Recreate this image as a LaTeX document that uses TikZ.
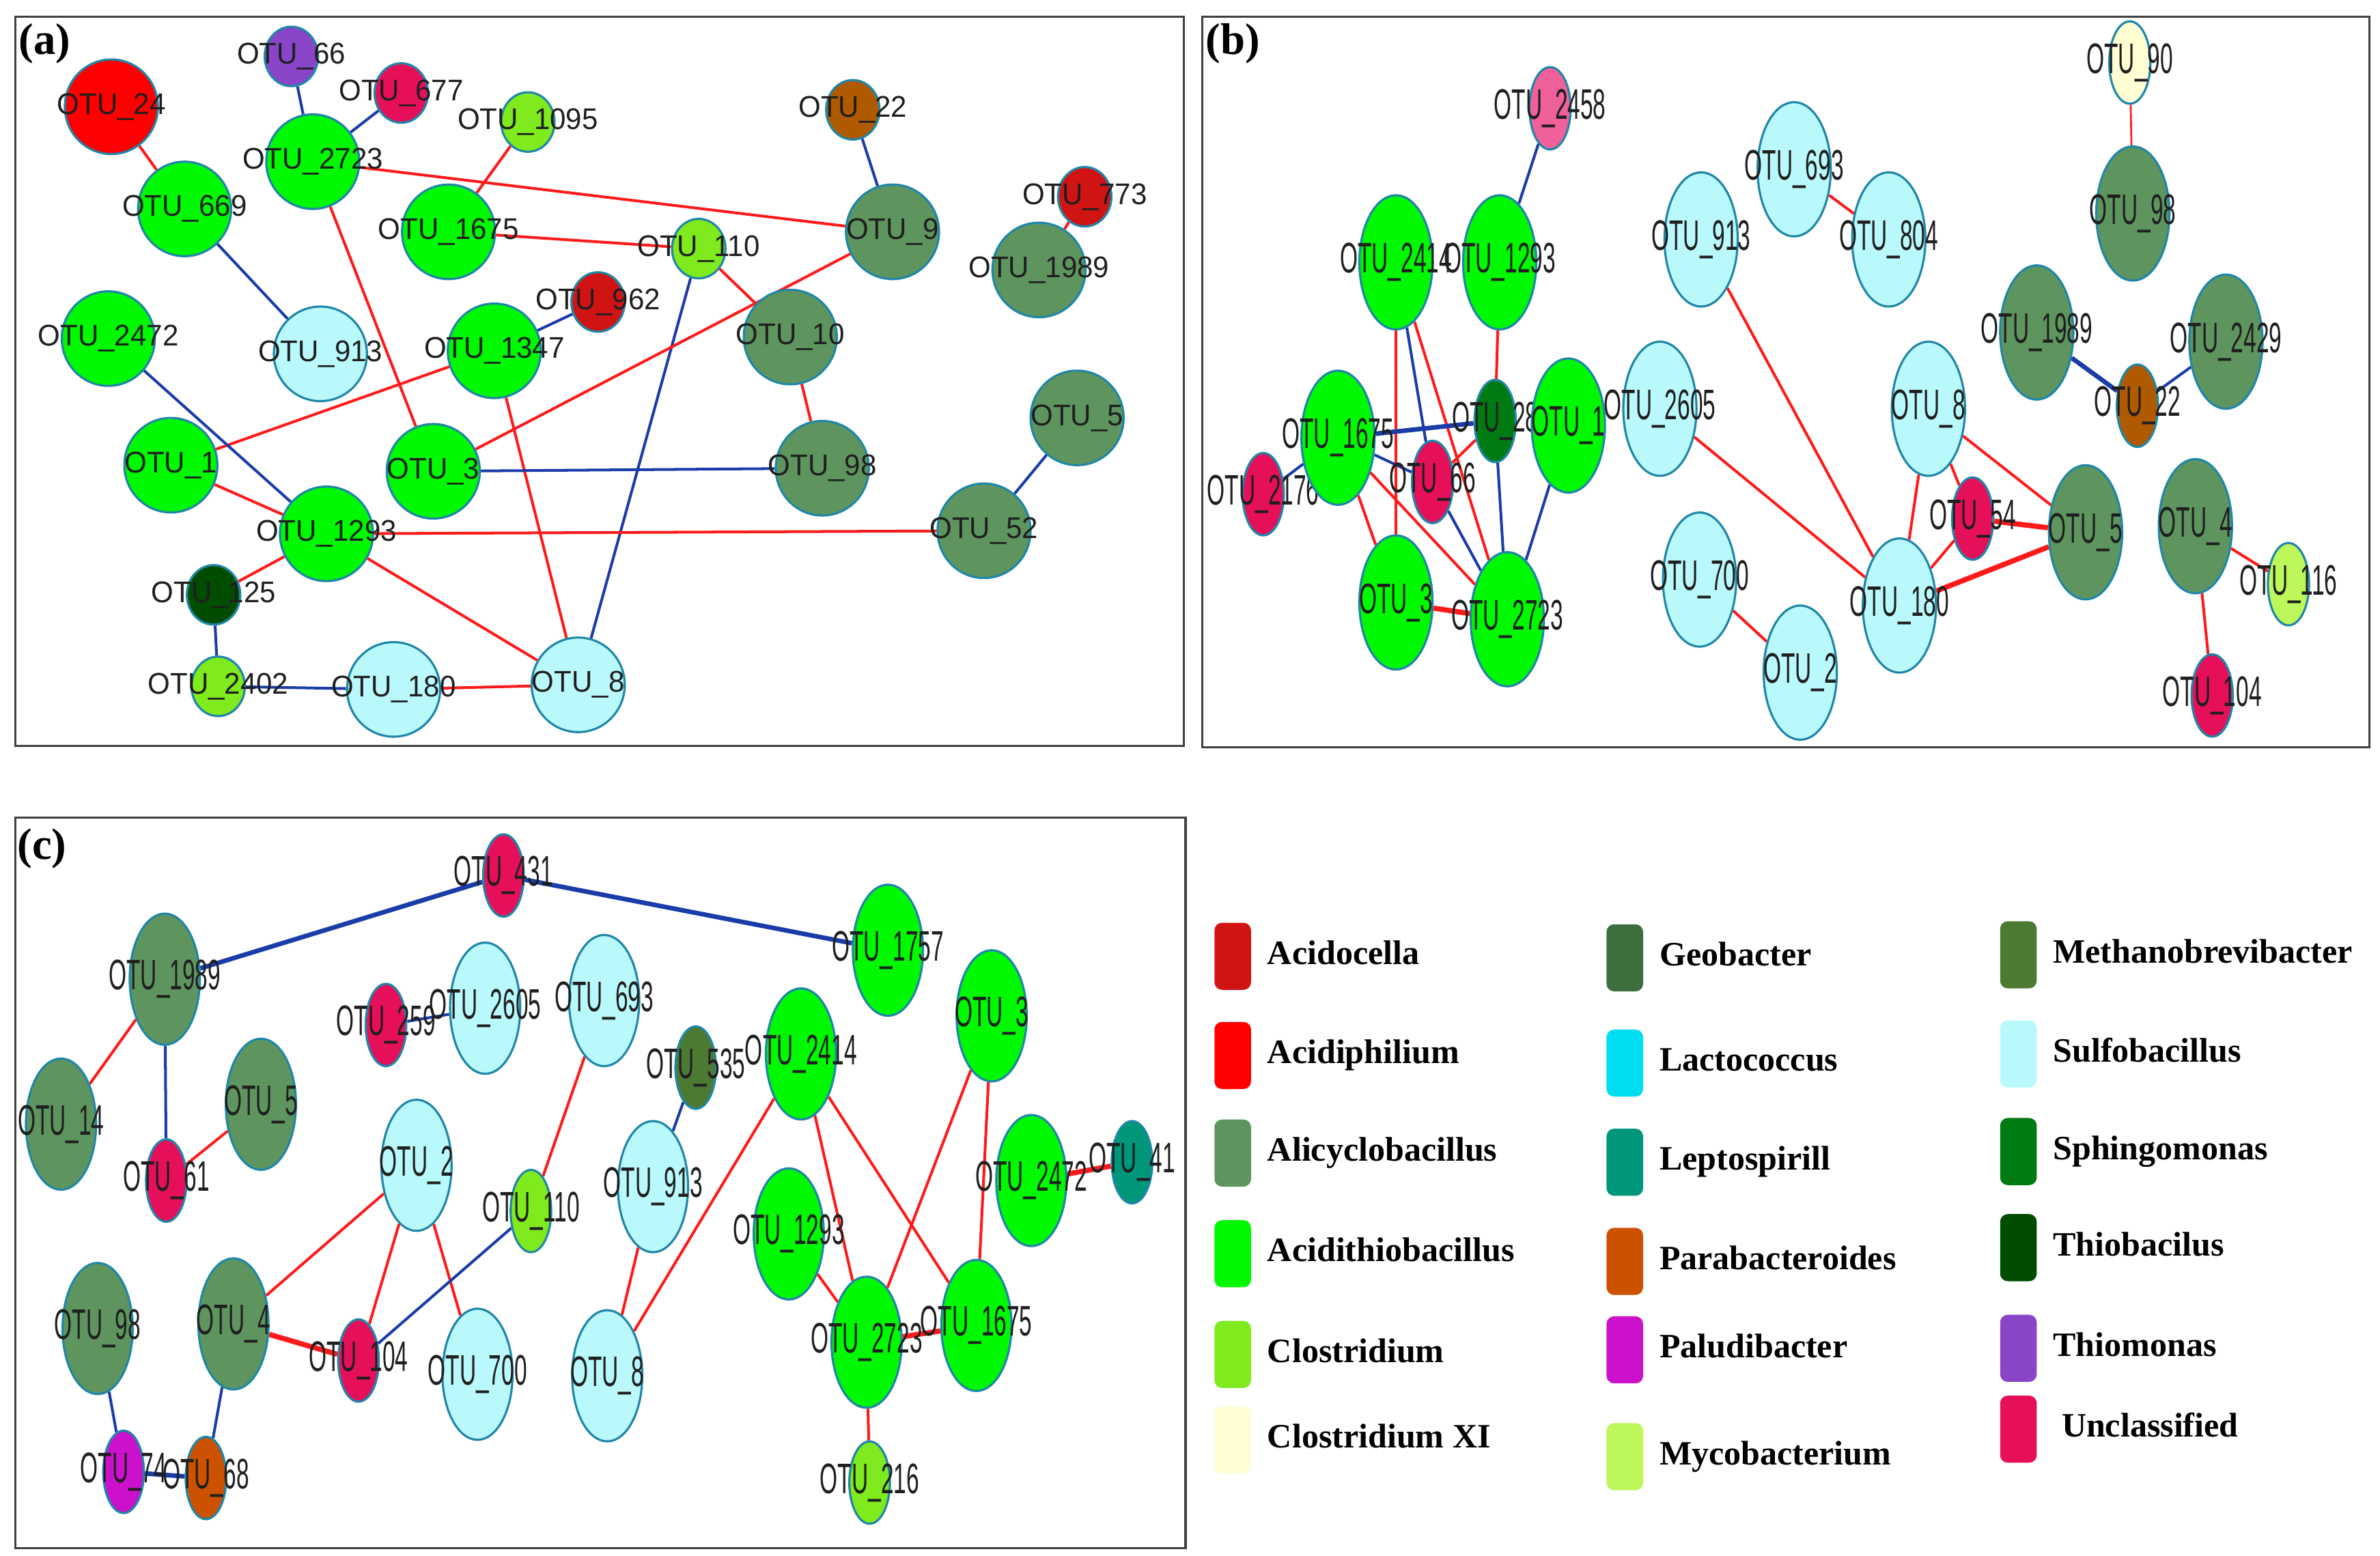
\documentclass[tikz,border=0pt]{standalone}
\usepackage{fontspec}
\setmainfont{Liberation Serif}
\newfontfamily\otuA[FakeStretch=0.96]{Liberation Sans}
\newfontfamily\otuB[FakeStretch=0.535]{Liberation Sans}
\usetikzlibrary{shapes.geometric,positioning,backgrounds}

\definecolor{rim}{HTML}{1F86A8}
\definecolor{linkred}{HTML}{FF1A1A}
\definecolor{linkblue}{HTML}{1A3CA8}
\definecolor{acidocella}{HTML}{D01414}
\definecolor{acidiphilium}{HTML}{FF0000}
\definecolor{alicyclo}{HTML}{5E955F}
\definecolor{acidithio}{HTML}{00F800}
\definecolor{clostridium}{HTML}{7FEA1E}
\definecolor{clostxi}{HTML}{FFFDD2}
\definecolor{geobacter}{HTML}{3D6E3D}
\definecolor{lactococcus}{HTML}{00DDF0}
\definecolor{leptospirill}{HTML}{00967A}
\definecolor{parabact}{HTML}{CC5200}
\definecolor{paludibacter}{HTML}{CC11CC}
\definecolor{mycobact}{HTML}{BDF75A}
\definecolor{methano}{HTML}{4D7A33}
\definecolor{sulfo}{HTML}{BAF9FB}
\definecolor{sphingo}{HTML}{007A12}
\definecolor{thiobac}{HTML}{004D00}
\definecolor{thiomonas}{HTML}{8A44C8}
\definecolor{unclass}{HTML}{E6105A}
\definecolor{pinkish}{HTML}{F0609A}
\definecolor{brownish}{HTML}{B05A00}

\begin{document}
\begin{tikzpicture}[x=0.5pt,y=-0.5pt]
        \tikzstyle{otu}=[ellipse,draw=rim,line width=0.7pt,inner sep=0pt]
        \tikzstyle{bigA}=[minimum width=30.5pt,minimum height=31pt]
        \tikzstyle{smallA}=[minimum width=17.5pt,minimum height=19.5pt]
        \tikzstyle{tallB}=[minimum width=24pt,minimum height=44pt]
        \tikzstyle{tinyB}=[minimum width=13.5pt,minimum height=27pt]
        \tikzstyle{tallC}=[minimum width=23pt,minimum height=43pt]
        \tikzstyle{tinyC}=[minimum width=13.3pt,minimum height=27pt]
        \tikzstyle{redl}=[draw=linkred,line width=0.9pt]
        \tikzstyle{redw}=[draw=linkred,line width=1.7pt]
        \tikzstyle{redthin}=[draw=linkred,line width=0.6pt]
        \tikzstyle{bluel}=[draw=linkblue,line width=0.9pt]
        \tikzstyle{bluew}=[draw=linkblue,line width=1.5pt]
        \tikzstyle{frame}=[draw=black!75,line width=0.8pt]
        \tikzstyle{tag}=[anchor=north west,inner sep=0pt,font=\bfseries\fontsize{14.5}{15}\selectfont]
        \tikzstyle{swatch}=[rectangle,rounded corners=2.5pt,minimum width=12pt,minimum height=22pt,inner sep=0pt]
        \tikzstyle{keytext}=[inner sep=0pt,text height=7.4pt,text depth=2.2pt,font=\bfseries\fontsize{11.2}{12}\selectfont]

        \useasboundingbox (0,0) rectangle (1560,1020);
        \begin{scope}[on background layer]
        \fill[white] (0,0) rectangle (1560,1020);
        \end{scope}

        \draw[frame] (10,11) rectangle (776,489);
        \draw[frame] (788,11) rectangle (1553,490);
        \draw[frame] (10,536) rectangle (777,1015);
        \node[tag] (taga) at (12,15) {(a)};
        \node[tag] (tagb) at (790,15) {(b)};
        \node[tag] (tagc) at (11,543) {(c)};

        % (a)
        \begin{scope}[every label/.style={font=\otuA\fontsize{9.8}{10}\selectfont,text=black!88}]
        \foreach \n/\x/\y/\c/\s in {24/73/70/acidiphilium/bigA, 66/191/37/thiomonas/smallA,
            677/263/61/unclass/smallA, 1095/346/80/clostridium/smallA, 669/121/137/acidithio/bigA,
            2723/205/106/acidithio/bigA, 1675/294/152/acidithio/bigA, 110/458/163/clostridium/smallA,
            22/559/72/brownish/smallA, 9/585/152/alicyclo/bigA, 773/711/129/acidocella/smallA,
            1989/681/177/alicyclo/bigA, 962/392/198/acidocella/smallA, 10/518/221/alicyclo/bigA,
            2472/71/222/acidithio/bigA, 913/210/232/sulfo/bigA, 1347/324/230/acidithio/bigA,
            5/706/274/alicyclo/bigA, 1/112/305/acidithio/bigA, 3/284/309/acidithio/bigA,
            98/539/307/alicyclo/bigA, 52/645/348/alicyclo/bigA, 1293/214/350/acidithio/bigA,
            125/140/390/thiobac/smallA, 2402/143/450/clostridium/smallA, 180/258/452/sulfo/bigA,
            8/379/449/sulfo/bigA}
            \node[otu,\s,fill=\c,label=center:OTU\_\n] (a\n) at (\x,\y) {};
        \end{scope}
        \begin{scope}[on background layer]
        \foreach \u/\v/\e in {24/669/redl, 66/2723/bluel, 677/2723/bluel, 1095/1675/redl,
            2723/9/redl, 2723/3/redl, 669/913/bluel, 1675/110/redl, 22/9/bluel, 773/1989/redl,
            110/10/redl, 110/8/bluel, 9/3/redl, 962/1347/bluel, 1347/1/redl, 1347/8/redl,
            10/98/redl, 2472/1293/bluel, 1/1293/redl, 3/98/bluel, 5/52/bluel, 1293/52/redl,
            1293/125/redl, 1293/8/redl, 125/2402/bluel, 2402/180/bluel, 180/8/redl}
            \draw[\e] (a\u) -- (a\v);
        \end{scope}

        % (b)
        \begin{scope}[every label/.style={font=\otuB\fontsize{14}{14}\selectfont,text=black!88}]
        \foreach \n/\x/\y/\c/\s in {2458/1016/71/pinkish/tinyB, 90/1396/41/clostxi/tinyB,
            693/1176/111/sulfo/tallB, 913/1115/157/sulfo/tallB, 804/1238/157/sulfo/tallB,
            98/1398/140/alicyclo/tallB, 2414/915/172/acidithio/tallB, 1293/983/172/acidithio/tallB,
            1989/1335/218/alicyclo/tallB, 2429/1459/224/alicyclo/tallB, 22/1401/266/brownish/tinyB,
            2605/1088/268/sulfo/tallB, 8/1264/268/sulfo/tallB, 2176/828/324/unclass/tinyB,
            1675/877/287/acidithio/tallB, 66/939/316/unclass/tinyB, 28/980/276/sphingo/tinyB,
            1/1028/279/acidithio/tallB, 54/1293/340/unclass/tinyB, 5/1367/349/alicyclo/tallB,
            4/1439/345/alicyclo/tallB, 116/1500/383/mycobact/tinyB, 3/915/395/acidithio/tallB,
            2723/988/406/acidithio/tallB, 700/1114/380/sulfo/tallB, 180/1245/397/sulfo/tallB,
            2/1180/441/sulfo/tallB, 104/1450/456/unclass/tinyB}
            \node[otu,\s,fill=\c,label=center:OTU\_\n] (b\n) at (\x,\y) {};
        \end{scope}
        \begin{scope}[on background layer]
        \foreach \u/\v/\e in {2458/1293/bluel, 693/804/redl, 90/98/redthin, 913/180/redl,
            1293/28/redl, 2414/3/redl, 2414/66/bluel, 2414/2723/redl, 1675/28/bluew,
            1675/2176/bluel, 1675/66/bluel, 1675/3/redl, 1675/2723/redl, 66/28/redl,
            66/2723/bluel, 28/2723/bluel, 1/2723/bluel, 3/2723/redw, 2605/180/redl,
            1989/22/bluew, 22/2429/bluel, 8/54/redl, 8/5/redl, 8/180/redl, 54/5/redw,
            54/180/redl, 180/5/redw, 700/2/redl, 4/116/redl, 4/104/redl}
            \draw[\e] (b\u) -- (b\v);
        \end{scope}

        % (c)
        \begin{scope}[every label/.style={font=\otuB\fontsize{14}{14}\selectfont,text=black!88}]
        \foreach \n/\x/\y/\c/\s in {431/330/574/unclass/tinyC, 1989/108/642/alicyclo/tallC,
            1757/582/623/acidithio/tallC, 259/253/672/unclass/tinyC, 2605/318/661/sulfo/tallC,
            693/396/656/sulfo/tallC, 3/650/666/acidithio/tallC, 535/456/700/methano/tinyC,
            2414/525/691/acidithio/tallC, 14/40/737/alicyclo/tallC, 5/171/724/alicyclo/tallC,
            61/109/774/unclass/tinyC, 2/273/764/sulfo/tallC, 110/348/794/clostridium/tinyC,
            913/428/778/sulfo/tallC, 2472/676/774/acidithio/tallC, 41/742/762/leptospirill/tinyC,
            1293/517/809/acidithio/tallC, 98/64/871/alicyclo/tallC, 4/153/868/alicyclo/tallC,
            104/235/892/unclass/tinyC, 700/313/901/sulfo/tallC, 8/398/902/sulfo/tallC,
            2723/568/880/acidithio/tallC, 1675/640/869/acidithio/tallC, 74/81/965/paludibacter/tinyC,
            68/135/969/parabact/tinyC, 216/570/972/clostridium/tinyC}
            \node[otu,\s,fill=\c,label=center:OTU\_\n] (c\n) at (\x,\y) {};
        \end{scope}
        \begin{scope}[on background layer]
        \foreach \u/\v/\e in {1989/431/bluew, 431/1757/bluew, 1989/14/redl, 1989/61/bluel,
            61/5/redl, 259/2605/bluel, 693/110/redl, 2/4/redl, 2/104/redl, 2/700/redl,
            110/104/bluel, 4/104/redw, 4/68/bluel, 98/74/bluel, 74/68/bluew, 535/913/bluel,
            913/8/redl, 2414/8/redl, 2414/2723/redl, 2414/1675/redl, 3/2723/redl, 3/1675/redl,
            1293/2723/redl, 2723/1675/redw, 2723/216/redl, 2472/41/redw}
            \draw[\e] (c\u) -- (c\v);
        \end{scope}

        % legend
        \foreach \c/\x/\y/\t in {acidocella/808/627/Acidocella, acidiphilium/808/692/Acidiphilium,
            alicyclo/808/756/Alicyclobacillus, acidithio/808/822/Acidithiobacillus,
            clostridium/808/888/Clostridium, clostxi/808/944/Clostridium XI,
            geobacter/1065/628/Geobacter, lactococcus/1065/697/Lactococcus,
            leptospirill/1065/762/Leptospirill, parabact/1065/827/Parabacteroides,
            paludibacter/1065/885/Paludibacter, mycobact/1065/955/Mycobacterium,
            methano/1323/626/Methanobrevibacter, sulfo/1323/691/Sulfobacillus,
            sphingo/1323/755/Sphingomonas, thiobac/1323/818/Thiobacilus,
            thiomonas/1323/884/Thiomonas, unclass/1323/937/~Unclassified}
        {
            \node[swatch,fill=\c] (key\c) at (\x,\y) {};
            \node[keytext,right=5pt of key\c] (txt\c) {\t};
        };
\end{tikzpicture}
\end{document}
